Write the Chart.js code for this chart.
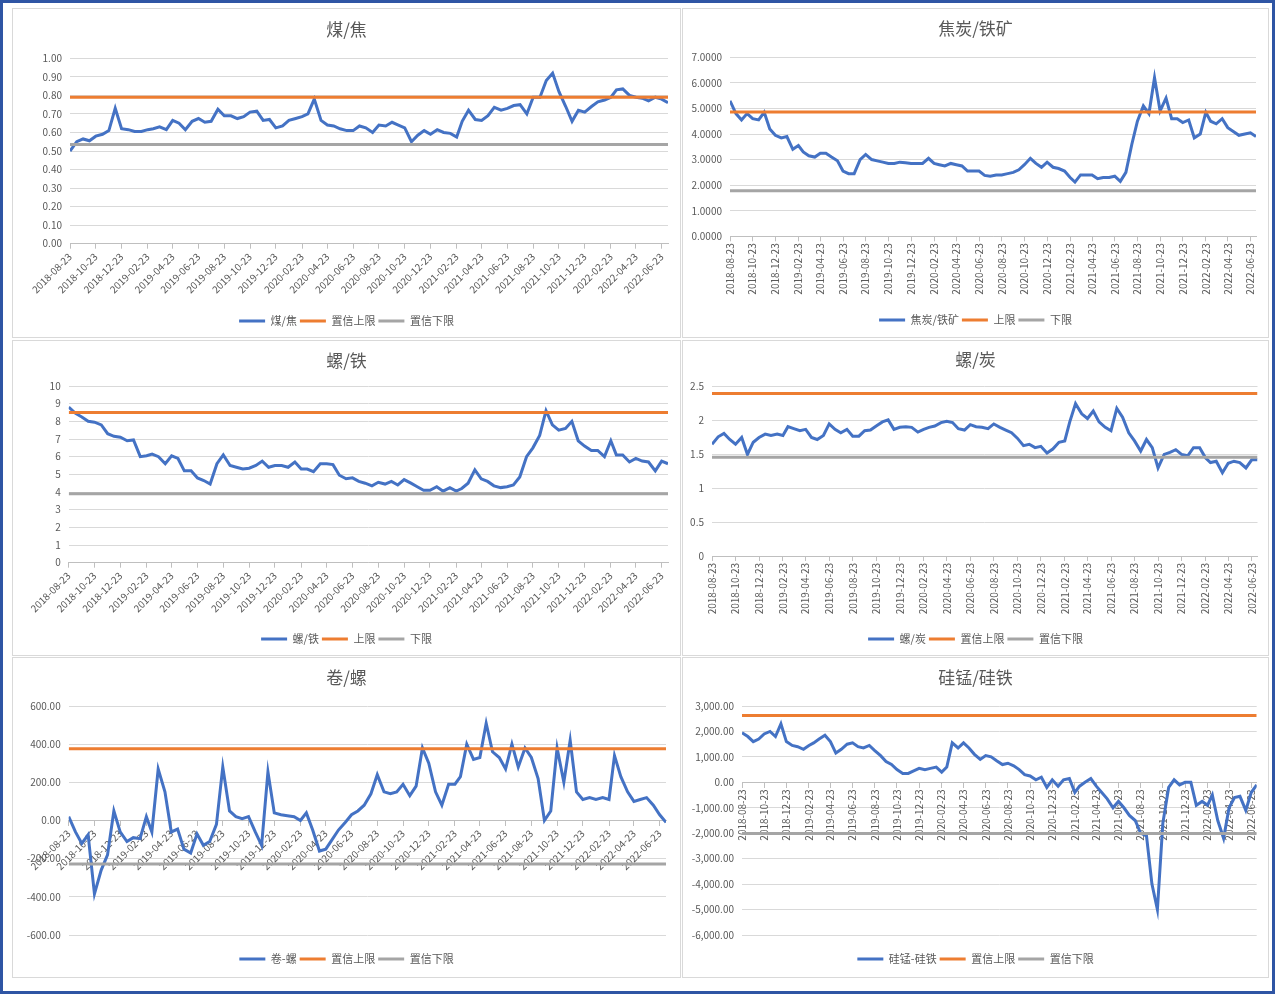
<!DOCTYPE html>
<html>
<head>
<meta charset="utf-8">
<script src="https://cdn.jsdelivr.net/npm/chart.js@4.4.1/dist/chart.umd.min.js"></script>
<style>
  body { margin: 0; background: #fff; }
  #frame { position: absolute; left: 0; top: 0; width: 1269px; height: 988px; border: 3px solid #2f55a4; }
  .panel { position: absolute; border: 1px solid #d9d9d9; background: #fff; }
  .panel canvas { display: block; }
</style>
</head>
<body>
<div id="frame"></div>
<div class="panel" style="left:12px;top:8px;width:667px;height:328px"><canvas id="c1" width="667" height="328"></canvas></div>
<div class="panel" style="left:682px;top:8px;width:585px;height:328px"><canvas id="c2" width="585" height="328"></canvas></div>
<div class="panel" style="left:12px;top:340px;width:667px;height:314px"><canvas id="c3" width="667" height="314"></canvas></div>
<div class="panel" style="left:682px;top:340px;width:585px;height:314px"><canvas id="c4" width="585" height="314"></canvas></div>
<div class="panel" style="left:12px;top:657px;width:667px;height:319px"><canvas id="c5" width="667" height="319"></canvas></div>
<div class="panel" style="left:682px;top:657px;width:585px;height:319px"><canvas id="c6" width="585" height="319"></canvas></div>
<script>
// sample dates (half-monthly readings)
const dates = [
  "2018-08-23", "2018-09-08", "2018-09-23", "2018-10-08", "2018-10-23", "2018-11-08", "2018-11-23", "2018-12-08", "2018-12-23",
  "2019-01-08", "2019-01-23", "2019-02-08", "2019-02-23", "2019-03-08", "2019-03-23", "2019-04-08", "2019-04-23",
  "2019-05-08", "2019-05-23", "2019-06-08", "2019-06-23", "2019-07-08", "2019-07-23", "2019-08-08", "2019-08-23",
  "2019-09-08", "2019-09-23", "2019-10-08", "2019-10-23", "2019-11-08", "2019-11-23", "2019-12-08", "2019-12-23",
  "2020-01-08", "2020-01-23", "2020-02-08", "2020-02-23", "2020-03-08", "2020-03-23", "2020-04-08", "2020-04-23",
  "2020-05-08", "2020-05-23", "2020-06-08", "2020-06-23", "2020-07-08", "2020-07-23", "2020-08-08", "2020-08-23",
  "2020-09-08", "2020-09-23", "2020-10-08", "2020-10-23", "2020-11-08", "2020-11-23", "2020-12-08", "2020-12-23",
  "2021-01-08", "2021-01-23", "2021-02-08", "2021-02-23", "2021-03-08", "2021-03-23", "2021-04-08", "2021-04-23",
  "2021-05-08", "2021-05-23", "2021-06-08", "2021-06-23", "2021-07-08", "2021-07-23", "2021-08-08", "2021-08-23",
  "2021-09-08", "2021-09-23", "2021-10-08", "2021-10-23", "2021-11-08", "2021-11-23", "2021-12-08", "2021-12-23",
  "2022-01-08", "2022-01-23", "2022-02-08", "2022-02-23", "2022-03-08", "2022-03-23", "2022-04-08", "2022-04-23",
  "2022-05-08", "2022-05-23", "2022-06-08", "2022-06-23", "2022-07-08"
];

const tickLabels = [
  "2018-08-23", "2018-10-23", "2018-12-23", "2019-02-23", "2019-04-23", "2019-06-23", "2019-08-23", "2019-10-23",
  "2019-12-23", "2020-02-23", "2020-04-23", "2020-06-23", "2020-08-23", "2020-10-23", "2020-12-23", "2021-02-23",
  "2021-04-23", "2021-06-23", "2021-08-23", "2021-10-23", "2021-12-23", "2022-02-23", "2022-04-23", "2022-06-23"
];

// 煤/焦
const coalCoke = [
  0.50, 0.55, 0.565, 0.555, 0.58, 0.59, 0.61, 0.73, 0.62, 0.615,
  0.605, 0.605, 0.615, 0.62, 0.63, 0.615, 0.665, 0.65, 0.615, 0.66,
  0.675, 0.655, 0.66, 0.725, 0.69, 0.69, 0.675, 0.685, 0.71, 0.715,
  0.665, 0.67, 0.625, 0.635, 0.665, 0.675, 0.685, 0.70, 0.78, 0.665,
  0.64, 0.635, 0.62, 0.61, 0.61, 0.635, 0.625, 0.60, 0.64, 0.635,
  0.655, 0.64, 0.625, 0.55, 0.585, 0.61, 0.59, 0.615, 0.60, 0.595,
  0.575, 0.66, 0.72, 0.67, 0.665, 0.69, 0.735, 0.72, 0.73, 0.745,
  0.75, 0.70, 0.79, 0.79, 0.88, 0.92, 0.82, 0.74, 0.66, 0.72,
  0.71, 0.74, 0.765, 0.775, 0.79, 0.83, 0.835, 0.80, 0.79, 0.785,
  0.77, 0.79, 0.78, 0.76
];
const coalCokeBand = [0.79, 0.535];

// 焦炭/铁矿
const cokeOre = [
  5.3, 4.8, 4.55, 4.8, 4.6, 4.55, 4.85, 4.2, 3.95, 3.85,
  3.9, 3.4, 3.55, 3.3, 3.15, 3.1, 3.25, 3.25, 3.1, 2.95,
  2.55, 2.45, 2.45, 3.0, 3.2, 3.0, 2.95, 2.9, 2.85, 2.85,
  2.9, 2.88, 2.85, 2.85, 2.85, 3.05, 2.85, 2.8, 2.75, 2.85,
  2.8, 2.75, 2.55, 2.55, 2.55, 2.38, 2.35, 2.4, 2.4, 2.45,
  2.5, 2.6, 2.8, 3.05, 2.85, 2.7, 2.9, 2.7, 2.65, 2.55,
  2.3, 2.12, 2.4, 2.4, 2.4, 2.25, 2.3, 2.3, 2.35, 2.15,
  2.5, 3.6, 4.5, 5.1, 4.8, 6.2, 4.9, 5.4, 4.6, 4.6,
  4.45, 4.55, 3.85, 4.0, 4.85, 4.5, 4.4, 4.6, 4.25, 4.1,
  3.95, 4.0, 4.05, 3.9
];
const cokeOreBand = [4.86, 1.78];

// 螺/铁
const rebarOre = [
  8.8, 8.45, 8.25, 8.0, 7.95, 7.8, 7.3, 7.15, 7.1, 6.9,
  6.95, 6.0, 6.05, 6.15, 6.0, 5.6, 6.05, 5.9, 5.2, 5.2,
  4.8, 4.65, 4.45, 5.6, 6.1, 5.5, 5.4, 5.3, 5.35, 5.5,
  5.75, 5.4, 5.5, 5.5, 5.4, 5.7, 5.3, 5.3, 5.15, 5.6,
  5.6, 5.55, 4.95, 4.75, 4.8, 4.6, 4.5, 4.35, 4.55, 4.45,
  4.6, 4.4, 4.7, 4.5, 4.3, 4.1, 4.1, 4.3, 4.05, 4.25,
  4.05, 4.2, 4.5, 5.25, 4.75, 4.6, 4.35, 4.25, 4.3, 4.4,
  4.85, 6.0, 6.5, 7.2, 8.6, 7.8, 7.5, 7.6, 8.0, 6.9,
  6.6, 6.35, 6.35, 6.0, 6.9, 6.1, 6.1, 5.7, 5.9, 5.75,
  5.7, 5.2, 5.75, 5.6
];
const rebarOreBand = [8.5, 3.9];

// 螺/炭
const rebarCoke = [
  1.65, 1.76, 1.81, 1.72, 1.65, 1.75, 1.5, 1.68, 1.75, 1.8,
  1.78, 1.8, 1.78, 1.91, 1.88, 1.85, 1.87, 1.75, 1.72, 1.78,
  1.95, 1.87, 1.82, 1.87, 1.77, 1.77, 1.85, 1.86, 1.92, 1.98,
  2.01, 1.87, 1.9, 1.91, 1.9, 1.83, 1.87, 1.9, 1.92, 1.97,
  1.99, 1.97, 1.88, 1.86, 1.94, 1.91, 1.9, 1.88, 1.95, 1.9,
  1.86, 1.82, 1.74, 1.63, 1.65, 1.6, 1.62, 1.52, 1.58, 1.68,
  1.7, 1.98, 2.25, 2.1, 2.03, 2.14, 1.98, 1.9, 1.85, 2.18,
  2.05, 1.82, 1.7, 1.55, 1.72, 1.6, 1.3, 1.5, 1.53, 1.57,
  1.5, 1.48, 1.6, 1.6, 1.45, 1.38, 1.4, 1.23, 1.37, 1.4,
  1.38, 1.3, 1.42, 1.42
];
const rebarCokeBand = [2.40, 1.46];

// 卷-螺
const coilRebar = [
  20, -60, -120, -75, -385, -260, -180, 50, -60, -110,
  -90, -95, 20, -60, 270, 150, -60, -45, -150, -170,
  -70, -130, -110, -20, 280, 50, 20, 10, 20, -60,
  -130, 255, 40, 30, 25, 20, 0, 40, -50, -160,
  -150, -100, -50, -10, 30, 50, 80, 140, 240, 150,
  140, 150, 190, 130, 180, 380, 300, 150, 80, 190,
  190, 230, 400, 320, 330, 510, 360, 330, 270, 400,
  280, 380, 330, 220, 0, 50, 380, 200, 420, 150,
  110, 120, 110, 120, 110, 340, 230, 150, 100, 110,
  120, 80, 30, -10
];
const coilRebarBand = [376, -228];

// 硅锰-硅铁
const siMnFeSi = [
  1950, 1800, 1600, 1700, 1900, 2000, 1800, 2300, 1600, 1450,
  1400, 1300, 1450, 1550, 1700, 1850, 1600, 1150, 1300, 1500,
  1550, 1400, 1350, 1450, 1250, 1050, 820, 700, 500, 350,
  350, 450, 550, 500, 550, 600, 400, 600, 1550, 1350,
  1550, 1350, 1100, 900, 1050, 1000, 850, 700, 750, 650,
  500, 300, 250, 100, 200, -200, 100, -150, 100, 150,
  -400, -150, 0, 150, -150, -400, -650, -1000, -750, -1000,
  -1300, -1500, -2000, -2100, -4000, -5000, -1600, -200, 100, -100,
  0, 0, -900, -750, -900, -500, -1500, -2200, -1000, -600,
  -550, -1100, -400, -100
];
const siMnFeSiBand = [2630, -2010];

const BLUE = "#4472c4";
const ORANGE = "#ed7d31";
const GRAY = "#a5a5a5";
const TEXT = "#595959";
const GRID = "#d9d9d9";

Chart.defaults.font.family = "'Noto Sans CJK SC', 'Noto Sans', sans-serif";
Chart.defaults.color = TEXT;

function dayOf(s) {
  return (Date.parse(s) - Date.parse(dates[0])) / 86400000;
}
const xs = dates.map(dayOf);
const xMax = xs[xs.length - 1];
const tickXs = tickLabels.map(dayOf);

function fixed(n) {
  return function (v) { return v.toFixed(n); };
}
function plain(v) {
  return String(Number(v.toFixed(2)));
}
function thousands(v) {
  return v.toLocaleString("en-US", { minimumFractionDigits: 2, maximumFractionDigits: 2 });
}

// title and legend are centred over the whole panel, not the padded box
const centerBoxes = {
  id: "centerBoxes",
  afterLayout: function (chart, args, opts) {
    [chart.titleBlock, chart.legend].forEach(function (b) {
      if (b) {
        b.left += opts.shift;
        b.right += opts.shift;
      }
    });
  },
};

function makeChart(p) {
  const line = p.values.map(function (v, i) { return { x: xs[i], y: v }; });
  const flat = function (v) { return [{ x: 0, y: v }, { x: xMax, y: v }]; };

  const scales = {
    x: {
      type: "linear",
      min: 0,
      max: xMax,
      position: p.atZero ? { y: 0 } : "bottom",
      z: p.atZero ? 1 : 0,
      afterBuildTicks: function (s) {
        s.ticks = tickXs.map(function (v) { return { value: v }; });
      },
      afterFit: function (s) {
        if (!p.atZero) s.height = p.xHeight;
      },
      grid: { drawOnChartArea: false, drawTicks: true, tickLength: 5, color: "#bfbfbf" },
      border: { display: true, color: "#bfbfbf" },
      ticks: {
        autoSkip: false,
        maxRotation: p.rot,
        minRotation: p.rot,
        padding: 2,
        color: TEXT,
        font: { size: 10 },
        callback: function (v, i) { return tickLabels[i]; },
      },
    },
    y: {
      min: p.yMin,
      max: p.yMax,
      afterFit: function (s) { s.width = p.yWidth; },
      grid: { color: GRID, drawTicks: false },
      border: { display: false },
      ticks: { stepSize: p.yStep, padding: 8, color: TEXT, font: { size: 10 }, callback: p.fmt },
    },
  };
  if (p.atZero) {
    scales.pad = {
      type: "linear",
      position: "bottom",
      display: true,
      grid: { display: false },
      border: { display: false },
      ticks: { display: false },
      afterFit: function (s) { s.height = p.xHeight; },
    };
  }

  new Chart(document.getElementById(p.id), {
    type: "line",
    data: {
      datasets: [
        { label: p.names[0], data: line, borderColor: BLUE, backgroundColor: BLUE, borderWidth: 3, pointRadius: 0, order: 3 },
        { label: p.names[1], data: flat(p.band[0]), borderColor: ORANGE, backgroundColor: ORANGE, borderWidth: 3, pointRadius: 0, order: 2 },
        { label: p.names[2], data: flat(p.band[1]), borderColor: GRAY, backgroundColor: GRAY, borderWidth: 3, pointRadius: 0, order: 1 },
      ],
    },
    plugins: [centerBoxes],
    options: {
      responsive: false,
      animation: false,
      events: [],
      layout: { padding: { top: p.padTop, right: p.padRight, bottom: p.padBottom, left: 0 } },
      plugins: {
        centerBoxes: { shift: p.padRight / 2 },
        title: {
          display: true,
          text: p.title,
          color: TEXT,
          font: { size: 17, weight: "normal" },
          padding: { top: 0, bottom: p.titleGap },
        },
        legend: {
          position: "bottom",
          labels: {
            usePointStyle: true,
            pointStyle: "line",
            pointStyleWidth: 26,
            padding: 3,
            color: TEXT,
            font: { size: 11 },
            sort: function (a, b) { return a.datasetIndex - b.datasetIndex; },
          },
        },
        tooltip: { enabled: false },
      },
      scales: scales,
    },
  });
}

makeChart({
  id: "c1", title: "煤/焦", names: ["煤/焦", "置信上限", "置信下限"],
  values: coalCoke, band: coalCokeBand,
  yMin: 0, yMax: 1, yStep: 0.1, fmt: fixed(2),
  yWidth: 57, padRight: 12, padTop: 10.8, titleGap: 18.1, padBottom: 0.5, xHeight: 68.8, rot: 45,
});
makeChart({
  id: "c2", title: "焦炭/铁矿", names: ["焦炭/铁矿", "上限", "下限"],
  values: cokeOre, band: cokeOreBand,
  yMin: 0, yMax: 7, yStep: 1, fmt: fixed(4),
  yWidth: 47, padRight: 12, padTop: 9.8, titleGap: 18.1, padBottom: 1.5, xHeight: 75.2, rot: 90,
});
makeChart({
  id: "c3", title: "螺/铁", names: ["螺/铁", "上限", "下限"],
  values: rebarOre, band: rebarOreBand,
  yMin: 0, yMax: 10, yStep: 1, fmt: plain,
  yWidth: 55.7, padRight: 12, padTop: 9.5, titleGap: 15.1, padBottom: 0.5, xHeight: 67.8, rot: 45,
});
makeChart({
  id: "c4", title: "螺/炭", names: ["螺/炭", "置信上限", "置信下限"],
  values: rebarCoke, band: rebarCokeBand,
  yMin: 0, yMax: 2.5, yStep: 0.5, fmt: plain,
  yWidth: 29, padRight: 10.5, padTop: 8.8, titleGap: 16.5, padBottom: 0.5, xHeight: 74.5, rot: 90,
});
makeChart({
  id: "c5", title: "卷/螺", names: ["卷-螺", "置信上限", "置信下限"],
  values: coilRebar, band: coilRebarBand,
  yMin: -600, yMax: 600, yStep: 200, fmt: fixed(2),
  yWidth: 55.7, padRight: 14, padTop: 9.8, titleGap: 17.8, padBottom: 2.5, xHeight: 15.5, rot: 45, atZero: true,
});
makeChart({
  id: "c6", title: "硅锰/硅铁", names: ["硅锰-硅铁", "置信上限", "置信下限"],
  values: siMnFeSi, band: siMnFeSiBand,
  yMin: -6000, yMax: 3000, yStep: 1000, fmt: thousands,
  yWidth: 59, padRight: 11.3, padTop: 9.8, titleGap: 17.8, padBottom: 2.5, xHeight: 15.5, rot: 90, atZero: true,
});
</script>
</body>
</html>
